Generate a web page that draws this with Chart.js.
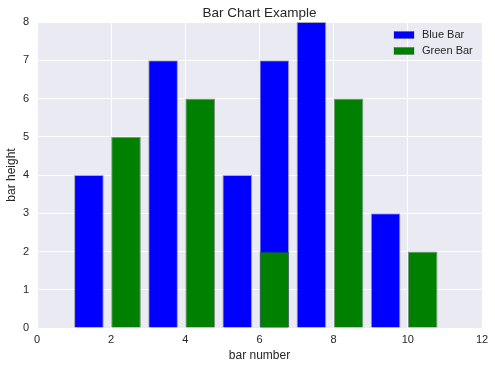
<!DOCTYPE html>
<html>
<head>
<meta charset="utf-8">
<script src="https://cdn.jsdelivr.net/npm/chart.js@4/dist/chart.umd.min.js"></script>
<style>
  html, body { margin: 0; padding: 0; background: #fff; }
  #chart-canvas { display: block; }
</style>
</head>
<body>
<canvas id="chart-canvas" width="495" height="368"></canvas>
<script>
// bar left edges (matplotlib align="edge") and heights
const blueEdges = [1, 3, 5, 6, 7, 9];
const blueHeights = [4, 7, 4, 7, 8, 3];
const greenEdges = [2, 4, 6, 8, 10];
const greenHeights = [5, 6, 2, 6, 2];
const xTicks = [0, 2, 4, 6, 8, 10, 12];
const yTicks = [0, 1, 2, 3, 4, 5, 6, 7, 8];

const BAR_WIDTH = 0.8;
const FONT = "'Liberation Sans', Arial, sans-serif";
const TEXT = "#262626";

function toPoints(edges, heights) {
  return edges.map((e, i) => ({ x: e + BAR_WIDTH / 2, y: heights[i] }));
}

// light grey plot background, title over the axes and legend inside the plot
const seabornStyle = {
  id: "seabornStyle",
  beforeDraw(chart) {
    const { ctx, chartArea: a } = chart;
    ctx.save();
    ctx.fillStyle = "#EAEAF2";
    ctx.fillRect(a.left, a.top, a.right - a.left, a.bottom - a.top);
    ctx.restore();
  },
  afterDraw(chart) {
    const { ctx, chartArea: a } = chart;
    ctx.save();
    ctx.fillStyle = TEXT;
    ctx.font = "13.5px " + FONT;
    ctx.textAlign = "center";
    ctx.textBaseline = "alphabetic";
    ctx.fillText("Bar Chart Example", (a.left + a.right) / 2, 17);

    ctx.font = "11px " + FONT;
    ctx.textAlign = "left";
    ctx.textBaseline = "middle";
    chart.data.datasets.forEach((ds, i) => {
      const y = 35 + i * 16;
      ctx.fillStyle = ds.backgroundColor;
      ctx.fillRect(394, y - 3.5, 20, 7);
      ctx.strokeStyle = "rgba(60,60,60,0.5)";
      ctx.lineWidth = 0.6;
      ctx.strokeRect(394, y - 3.5, 20, 7);
      ctx.fillStyle = TEXT;
      ctx.fillText(ds.label, 422, y);
    });
    ctx.restore();
  }
};

const ctx = document.getElementById("chart-canvas").getContext("2d");

new Chart(ctx, {
  type: "bar",
  data: {
    datasets: [
      {
        label: "Blue Bar",
        data: toPoints(blueEdges, blueHeights),
        backgroundColor: "#0000FF",
        borderColor: "rgba(70,70,90,0.45)",
        borderWidth: 1,
        grouped: false,
        categoryPercentage: BAR_WIDTH,
        barPercentage: 1,
        order: 1
      },
      {
        label: "Green Bar",
        data: toPoints(greenEdges, greenHeights),
        backgroundColor: "#008000",
        borderColor: "rgba(40,70,40,0.55)",
        borderWidth: 1,
        grouped: false,
        categoryPercentage: BAR_WIDTH,
        barPercentage: 1,
        order: 0
      }
    ]
  },
  options: {
    responsive: false,
    animation: false,
    layout: { padding: { left: 0, right: 13, top: 22, bottom: 0 } },
    plugins: {
      legend: { display: false },
      title: { display: false },
      tooltip: { enabled: false }
    },
    scales: {
      x: {
        type: "linear",
        min: 0,
        max: 12,
        offset: false,
        afterFit: (s) => { s.height = 40; },
        afterBuildTicks: (s) => { s.ticks = xTicks.map((v) => ({ value: v })); },
        grid: { color: "#ffffff", lineWidth: 1, drawTicks: false, offset: false },
        border: { display: false },
        ticks: { color: TEXT, font: { family: FONT, size: 11 }, padding: 5, maxRotation: 0 },
        title: {
          display: true,
          text: "bar number",
          color: TEXT,
          font: { family: FONT, size: 12 },
          padding: { top: 4, bottom: 5 }
        }
      },
      y: {
        min: 0,
        max: 8,
        afterFit: (s) => { s.width = 37; },
        afterBuildTicks: (s) => { s.ticks = yTicks.map((v) => ({ value: v })); },
        grid: { color: "#ffffff", lineWidth: 1, drawTicks: false },
        border: { display: false },
        ticks: { color: TEXT, font: { family: FONT, size: 11 }, padding: 8 },
        title: {
          display: true,
          text: "bar height",
          color: TEXT,
          font: { family: FONT, size: 12 },
          padding: { top: 4, bottom: 4 }
        }
      }
    }
  },
  plugins: [seabornStyle]
});
</script>
</body>
</html>
